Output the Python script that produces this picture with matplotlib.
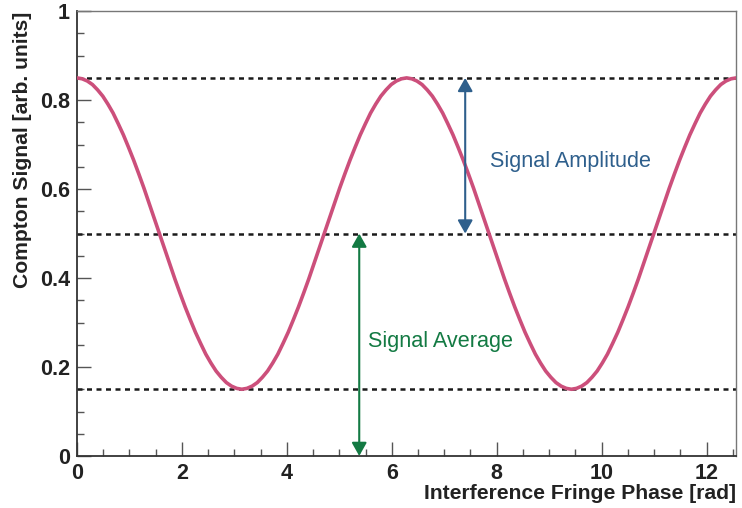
import numpy as np
import matplotlib.pyplot as plt
from matplotlib.ticker import MultipleLocator

plt.rcParams['font.family'] = ['Liberation Sans', 'DejaVu Sans']

# =================== DATA =================== #

half_fringe = [0.850, 0.848, 0.843, 0.835, 0.823, 0.809, 0.791, 0.771, 0.747,
               0.722, 0.694, 0.665, 0.634, 0.602, 0.568, 0.534, 0.500,
               0.466, 0.432, 0.398, 0.366, 0.335, 0.306, 0.278, 0.253,
               0.229, 0.209, 0.191, 0.177, 0.165, 0.157, 0.152, 0.150]
rising = half_fringe[::-1][1:]
falling = half_fringe[1:]
# the picture shows two full fringes: down, up, down, up
signal = half_fringe + rising + falling + rising
phase_step = np.pi / 32
phase = np.arange(len(signal)) * phase_step

level_max = 0.85
level_avg = 0.50
level_min = 0.15
amp_arrow_x = 7.4
avg_arrow_x = 5.38

x_max = 4 * np.pi

# =================== PLOT =================== #

fig = plt.figure(figsize=(7.42, 5.08), dpi=100)
ax = fig.add_axes([0.1038, 0.1024, 0.9922 - 0.1038, 0.978 - 0.1024])

for lev in (level_max, level_avg, level_min):
    ax.plot([0, x_max], [lev, lev], color='#1a1a1a', lw=1.8,
            dashes=(2.0, 1.8), zorder=2)

ax.plot(phase, signal, color='#cc4f7b', lw=2.6, zorder=3,
        solid_joinstyle='round')

blue = '#2e5f8c'
green = '#137a43'
head = '<|-|>,head_length=0.8,head_width=0.45'
ax.annotate('', xy=(amp_arrow_x, level_max), xytext=(amp_arrow_x, level_avg),
            arrowprops=dict(arrowstyle=head, color=blue, lw=1.5,
                            shrinkA=0, shrinkB=0))
ax.annotate('', xy=(avg_arrow_x, level_avg), xytext=(avg_arrow_x, 0.0),
            arrowprops=dict(arrowstyle=head, color=green, lw=1.5,
                            shrinkA=0, shrinkB=0))
ax.text(7.87, 0.663, 'Signal Amplitude', color=blue, fontsize=15.6,
        ha='left', va='center')
ax.text(5.54, 0.258, 'Signal Average', color=green, fontsize=15.6,
        ha='left', va='center')

ax.set_xlim(0, x_max)
ax.set_ylim(0, 1)
ax.xaxis.set_minor_locator(MultipleLocator(0.5))
ax.yaxis.set_minor_locator(MultipleLocator(0.05))
ax.set_xticks(range(0, 13, 2), [str(v) for v in range(0, 13, 2)])
ax.set_yticks([0, 0.2, 0.4, 0.6, 0.8, 1.0], ['0', '0.2', '0.4', '0.6', '0.8', '1'])
ax.tick_params(which='both', direction='in', color='#555555', width=1,
               labelsize=15.5, top=False, right=False, labelcolor='#222222')
ax.tick_params(which='major', length=10, pad=5)
ax.tick_params(which='minor', length=5)
for lab in ax.get_xticklabels() + ax.get_yticklabels():
    lab.set_fontweight('bold')

for side in ('left', 'bottom'):
    ax.spines[side].set_color('#333333')
    ax.spines[side].set_linewidth(1.3)
for side in ('top', 'right'):
    ax.spines[side].set_color('#777777')
    ax.spines[side].set_linewidth(1.0)

ax.set_xlabel('Interference Fringe Phase [rad]', fontsize=15.2, fontweight='bold',
              color='#222222', loc='right', labelpad=0)
ax.set_ylabel('Compton Signal [arb. units]', fontsize=15.2, fontweight='bold',
              color='#222222', loc='top', labelpad=6)

fig.savefig('out.png', dpi=100)
